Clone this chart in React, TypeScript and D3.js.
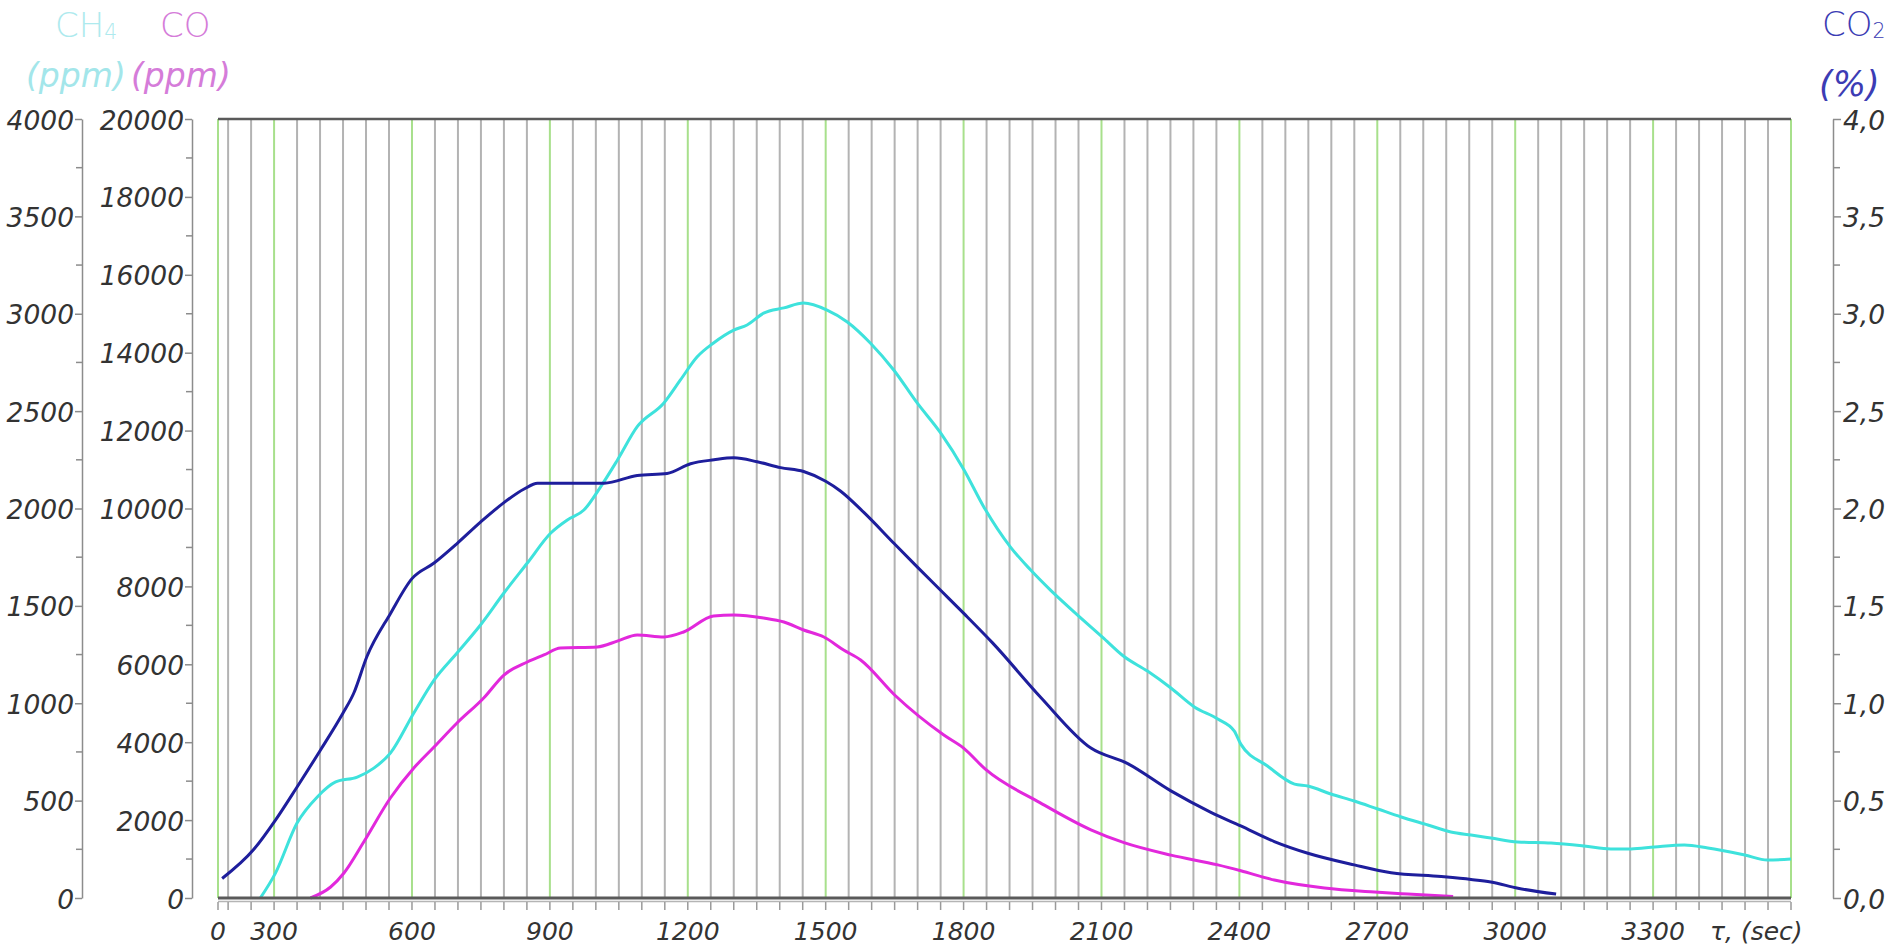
import React, { useEffect, useRef } from "react";
import * as d3 from "d3";

const W = 1895;
const H = 948;

// CH4, ppm
const ch4Time = [270, 303, 350, 394, 434, 481, 517, 553, 604, 648, 698, 749, 800, 851, 902, 938, 974, 1010, 1047, 1090, 1148, 1184, 1220, 1256, 1300, 1329, 1365, 1409, 1452, 1503, 1547, 1597, 1648, 1699, 1750, 1801, 1844, 1902, 1946, 1989, 2048, 2102, 2149, 2200, 2251, 2302, 2353, 2389, 2403, 2461, 2520, 2549, 2599, 2650, 2701, 2752, 2810, 2860, 2904, 2947, 3005, 3078, 3150, 3208, 3252, 3303, 3368, 3419, 3499, 3549, 3600];
const ch4Values = [0, 128, 385, 519, 596, 621, 667, 744, 950, 1119, 1258, 1402, 1566, 1720, 1874, 1941, 1992, 2110, 2249, 2420, 2542, 2660, 2778, 2850, 2916, 2942, 3003, 3030, 3055, 3019, 2958, 2850, 2711, 2542, 2388, 2198, 2008, 1802, 1684, 1581, 1453, 1340, 1240, 1165, 1078, 981, 919, 857, 790, 678, 585, 575, 534, 498, 457, 416, 375, 339, 323, 308, 288, 282, 267, 252, 252, 262, 272, 257, 221, 195, 200];

// CO, ppm
const coTime = [379, 423, 452, 495, 553, 604, 648, 698, 756, 800, 851, 887, 923, 1003, 1048, 1090, 1148, 1191, 1256, 1300, 1365, 1409, 1452, 1496, 1539, 1576, 1650, 1757, 1800, 1848, 1966, 2077, 2149, 2251, 2353, 2403, 2476, 2585, 2694, 2766, 2865];
const coValues = [0, 282, 642, 1438, 2567, 3338, 3877, 4493, 5135, 5725, 6059, 6239, 6418, 6444, 6600, 6752, 6701, 6829, 7240, 7266, 7188, 7086, 6880, 6700, 6367, 6110, 5212, 4185, 3850, 3300, 2450, 1750, 1420, 1100, 850, 700, 462, 257, 154, 103, 40];

// CO2, %
const co2Time = [187, 256, 303, 350, 401, 450, 473, 502, 553, 600, 648, 698, 749, 800, 844, 873, 902, 974, 1018, 1090, 1155, 1206, 1257, 1300, 1351, 1402, 1452, 1500, 1532, 1583, 1649, 1699, 1750, 1801, 1863, 1968, 2077, 2157, 2251, 2338, 2403, 2476, 2549, 2650, 2730, 2839, 2904, 2947, 3006, 3089];
const co2Values = [0.1, 0.25, 0.4, 0.57, 0.76, 0.95, 1.05, 1.24, 1.46, 1.64, 1.72, 1.82, 1.93, 2.03, 2.1, 2.13, 2.13, 2.13, 2.13, 2.17, 2.18, 2.23, 2.25, 2.26, 2.24, 2.21, 2.19, 2.14, 2.09, 1.98, 1.82, 1.7, 1.58, 1.46, 1.31, 1.03, 0.77, 0.69, 0.55, 0.44, 0.37, 0.29, 0.23, 0.17, 0.13, 0.11, 0.095, 0.082, 0.05, 0.02];

const xTicks = [0, 300, 600, 900, 1200, 1500, 1800, 2100, 2400, 2700, 3000, 3300];
const ch4Ticks = [0, 500, 1000, 1500, 2000, 2500, 3000, 3500, 4000];
const coTicks = [0, 2000, 4000, 6000, 8000, 10000, 12000, 14000, 16000, 18000, 20000];
const co2Ticks = [0, 0.5, 1, 1.5, 2, 2.5, 3, 3.5, 4];

const FONT = "DejaVu Sans, sans-serif";

export default function App() {
  const ref = useRef<SVGSVGElement>(null);

  useEffect(() => {
    const svg = d3.select(ref.current);
    svg.selectAll("*").remove();

    const top = 119, bottom = 898, left = 218, right = 1791;
    const t0 = 178;

    const x = d3.scaleLinear().domain([t0, 3600]).range([left, right]);
    const yCh4 = d3.scaleLinear().domain([0, 4000]).range([bottom, top]);
    const yCo = d3.scaleLinear().domain([0, 20000]).range([bottom, top]);
    const yCo2 = d3.scaleLinear().domain([0, 4]).range([bottom, top]);

    // vertical grid, every 50 s, green every 300 s
    const grid = d3.range(200, 3600, 50).filter((t) => t % 300 !== 0);
    const greens = [t0, ...d3.range(300, 3601, 300)];
    svg.append("g").selectAll("line").data(grid).enter().append("line")
      .attr("x1", (d) => x(d)).attr("x2", (d) => x(d))
      .attr("y1", top).attr("y2", bottom)
      .attr("stroke", "#b3b3b3").attr("stroke-width", 2);
    svg.append("g").selectAll("line").data(greens).enter().append("line")
      .attr("x1", (d) => x(d)).attr("x2", (d) => x(d))
      .attr("y1", top).attr("y2", bottom)
      .attr("stroke", "#a8e08c").attr("stroke-width", 2);

    // frame top / bottom
    svg.append("line").attr("x1", left).attr("x2", right).attr("y1", top).attr("y2", top)
      .attr("stroke", "#5a5a5a").attr("stroke-width", 2.5);
    svg.append("line").attr("x1", left).attr("x2", right).attr("y1", bottom + 3.5).attr("y2", bottom + 3.5)
      .attr("stroke", "#b5b5b5").attr("stroke-width", 1.5);
    svg.append("g").selectAll("line").data([...grid, ...greens]).enter().append("line")
      .attr("x1", (d) => x(d)).attr("x2", (d) => x(d))
      .attr("y1", bottom + 4).attr("y2", bottom + 12)
      .attr("stroke", "#9a9a9a").attr("stroke-width", 1.5);

    // series
    const line = (ys: d3.ScaleLinear<number, number>) =>
      d3.line<[number, number]>().x((d) => x(d[0])).y((d) => ys(d[1])).curve(d3.curveMonotoneX);

    const series: [number[], number[], d3.ScaleLinear<number, number>, string][] = [
      [ch4Time, ch4Values, yCh4, "#3ee2dc"],
      [co2Time, co2Values, yCo2, "#1e1e9c"],
      [coTime, coValues, yCo, "#e228dc"],
    ];
    series.forEach(([ts, vs, ys, c]) => {
      svg.append("path")
        .datum(ts.map((t, i) => [t, vs[i]] as [number, number]))
        .attr("d", line(ys))
        .attr("fill", "none")
        .attr("stroke", c)
        .attr("stroke-width", 3)
        .attr("stroke-linejoin", "round");
    });

    svg.append("line").attr("x1", left).attr("x2", right).attr("y1", bottom).attr("y2", bottom)
      .attr("stroke", "#5a5a5a").attr("stroke-width", 3);

    // y axes
    const styleAxis = (g: d3.Selection<SVGGElement, unknown, null, undefined>) => {
      g.select(".domain").attr("stroke", "#8c8c8c").attr("stroke-width", 1.5);
      g.selectAll(".tick line").attr("stroke", "#8c8c8c").attr("stroke-width", 1.5);
      g.selectAll(".tick text")
        .attr("font-family", FONT).attr("font-style", "oblique")
        .attr("font-size", 26.5).attr("fill", "#333").attr("dy", "0.38em");
    };

    const gCh4 = svg.append("g").attr("transform", "translate(82,0)")
      .call(d3.axisLeft(yCh4).tickValues(ch4Ticks).tickSize(7).tickSizeOuter(0).tickPadding(1).tickFormat((d) => `${d}`));
    styleAxis(gCh4);
    gCh4.append("g").selectAll("line").data(d3.range(250, 4000, 500)).enter().append("line")
      .attr("x1", -6).attr("x2", 0).attr("y1", (d) => yCh4(d)).attr("y2", (d) => yCh4(d))
      .attr("stroke", "#8c8c8c").attr("stroke-width", 1.5);

    const gCo = svg.append("g").attr("transform", "translate(192,0)")
      .call(d3.axisLeft(yCo).tickValues(coTicks).tickSize(7).tickSizeOuter(0).tickPadding(1).tickFormat((d) => `${d}`));
    styleAxis(gCo);
    gCo.append("g").selectAll("line").data(d3.range(1000, 20000, 2000)).enter().append("line")
      .attr("x1", -6).attr("x2", 0).attr("y1", (d) => yCo(d)).attr("y2", (d) => yCo(d))
      .attr("stroke", "#8c8c8c").attr("stroke-width", 1.5);

    const gCo2 = svg.append("g").attr("transform", "translate(1833,0)")
      .call(d3.axisRight(yCo2).tickValues(co2Ticks).tickSize(8).tickSizeOuter(0).tickPadding(2)
        .tickFormat((d) => (+d).toFixed(1).replace(".", ",")));
    styleAxis(gCo2);
    gCo2.append("g").selectAll("line").data(d3.range(0.25, 4, 0.5)).enter().append("line")
      .attr("x1", 0).attr("x2", 7).attr("y1", (d) => yCo2(d)).attr("y2", (d) => yCo2(d))
      .attr("stroke", "#8c8c8c").attr("stroke-width", 1.5);

    // x labels
    svg.append("g").selectAll("text").data(xTicks).enter().append("text")
      .attr("x", (d) => x(d === 0 ? t0 : d))
      .attr("y", 940)
      .attr("text-anchor", "middle")
      .attr("font-family", FONT).attr("font-style", "oblique").attr("font-size", 25).attr("fill", "#333")
      .text((d) => `${d}`);
    svg.append("text").attr("x", 1710).attr("y", 940)
      .attr("font-family", FONT).attr("font-style", "oblique").attr("font-size", 25).attr("fill", "#333")
      .text("τ, (sec)");

    // axis titles
    const title = (tx: number, ty: number, txt: string, sub: string, color: string, italic: boolean, size: number) => {
      const t = svg.append("text").attr("x", tx).attr("y", ty)
        .attr("font-family", FONT).attr("font-size", size).attr("fill", color)
        .attr("font-weight", 300)
        .attr("font-style", italic ? "oblique" : "normal")
        .text(txt);
      if (sub) t.append("tspan").attr("font-size", size * 0.6).attr("dy", 2).text(sub);
    };
    title(55, 37, "CH", "4", "#aeeaee", false, 34);
    title(26, 87, "(ppm)", "", "#a3e6ea", true, 33);
    title(160, 37, "CO", "", "#d57cd9", false, 34);
    title(131, 87, "(ppm)", "", "#d57cd9", true, 33);
    title(1822, 36, "CO", "2", "#3c3cb4", false, 34);
    title(1819, 96, "(%)", "", "#3c3cb4", true, 35);
  }, []);

  return (
    <svg
      ref={ref}
      width={W}
      height={H}
      style={{ position: "absolute", left: 0, top: 0, background: "#fff" }}
    />
  );
}
